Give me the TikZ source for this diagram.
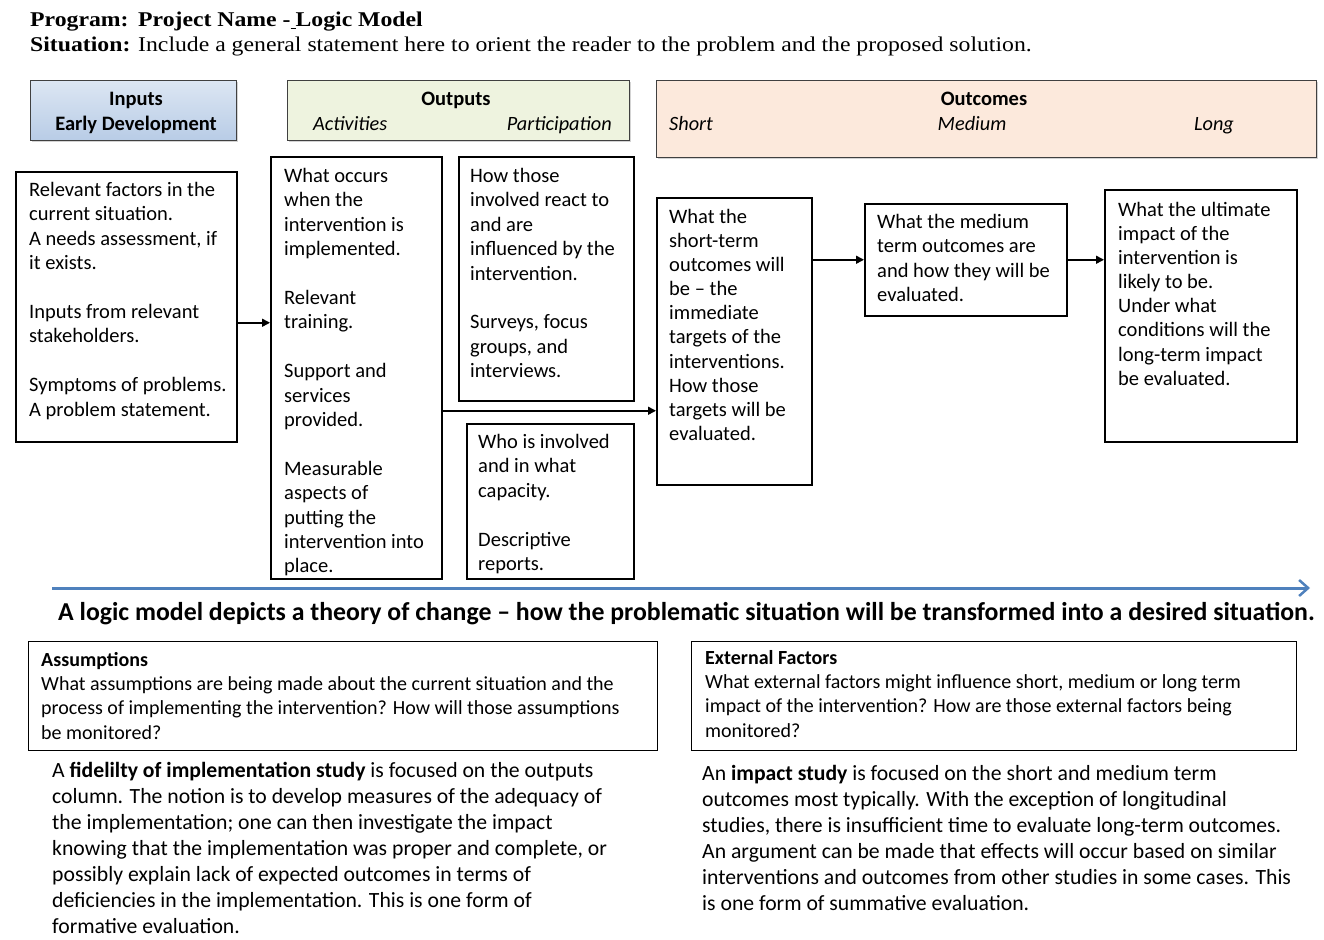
\documentclass[tikz,border=0pt]{standalone}
\usepackage{fontspec}
\setmainfont{Carlito}
\newfontfamily\titlefont[FakeStretch=1.13]{Liberation Serif}
\usetikzlibrary{arrows.meta,shadows}
\definecolor{intop}{HTML}{DCE6F3}
\definecolor{inbot}{HTML}{B8CCE6}
\definecolor{outfill}{HTML}{EEF3DF}
\definecolor{ocfill}{HTML}{FCE9DC}
\definecolor{flowblue}{HTML}{4F81BD}
\begin{document}
\begin{tikzpicture}[x=1pt,y=-1pt,
  box/.style={draw=black, line width=1.5pt, inner sep=0pt, anchor=north west},
  headbox/.style={draw=black!75, line width=1.3pt, inner sep=0pt, anchor=north west,
    drop shadow={shadow xshift=1.5pt, shadow yshift=-1.5pt, opacity=0.35}},
  txt/.style={anchor=north west, inner sep=0pt, align=left, font=\fontsize{20.5}{24.4}\selectfont},
  head/.style={anchor=base, inner sep=0pt, font=\fontsize{20.5}{24}\selectfont\bfseries},
  sub/.style={anchor=base, inner sep=0pt, font=\fontsize{20.3}{24}\selectfont\itshape},
  note/.style={anchor=north west, inner sep=0pt, align=left, font=\fontsize{20}{24.3}\selectfont},
  para/.style={anchor=north west, inner sep=0pt, align=left, font=\fontsize{21.7}{26}\selectfont},
  title/.style={anchor=base west, inner sep=0pt, font=\titlefont\fontsize{21}{24}\selectfont},
  titleb/.style={anchor=base west, inner sep=0pt, font=\titlefont\fontsize{21}{24}\selectfont\bfseries},
  arr/.style={line width=1.5pt, -{Triangle[length=8pt,width=8pt]}}
]
\useasboundingbox (0,0) rectangle (1324,939);

% title lines
\node[titleb] (prog) at (30,27) {Program:};
\node[titleb] (pname) at (138,27) {Project Name -\underline{\hspace{5pt}}Logic Model};
\node[titleb] (sit) at (30,52) {Situation:};
\node[title] (sittext) at (138,52) {Include a general statement here to orient the reader to the problem and the proposed solution.};

% column headers
\node[headbox, top color=intop, bottom color=inbot, minimum width=206pt, minimum height=60pt] (hin) at (30,80) {};
\node[head] (hin1) at (136,106) {Inputs};
\node[head] (hin2) at (136,130) {Early Development};

\node[headbox, fill=outfill, minimum width=342pt, minimum height=60pt] (hout) at (287,80) {};
\node[head] (hout1) at (456,106) {Outputs};
\node[sub, anchor=base west] (hact) at (313,130) {Activities};
\node[sub, anchor=base east] (hpart) at (612,130) {Participation};

\node[headbox, fill=ocfill, minimum width=660pt, minimum height=77pt] (hoc) at (656,80) {};
\node[head] (hoc1) at (984,106) {Outcomes};
\node[sub, anchor=base west] (hshort) at (669,130) {Short};
\node[sub] (hmed) at (972,130) {Medium};
\node[sub] (hlong) at (1214,130) {Long};

% content boxes
\node[box, minimum width=221pt, minimum height=270pt] (inp) at (15,171) {};
\node[txt] (inptxt) at (29,182) {Relevant factors in the\\current situation.\\A needs assessment, if\\it exists.\\[24.4pt]Inputs from relevant\\stakeholders.\\[24.4pt]Symptoms of problems.\\A problem statement.};

\node[box, minimum width=171pt, minimum height=422pt] (act) at (270,156) {};
\node[txt] (acttxt) at (284,168) {What occurs\\when the\\intervention is\\implemented.\\[24.4pt]Relevant\\training.\\[24.4pt]Support and\\services\\provided.\\[24.4pt]Measurable\\aspects of\\putting the\\intervention into\\place.};

\node[box, minimum width=175pt, minimum height=244pt] (partA) at (458,156) {};
\node[txt] (partAtxt) at (470,168) {How those\\involved react to\\and are\\influenced by the\\intervention.\\[24.4pt]Surveys, focus\\groups, and\\interviews.};

\node[box, minimum width=167pt, minimum height=155pt] (partB) at (466,423) {};
\node[txt] (partBtxt) at (478,434) {Who is involved\\and in what\\capacity.\\[24.4pt]Descriptive\\reports.};

\node[box, minimum width=155pt, minimum height=287pt] (short) at (656,197) {};
\node[txt, font=\fontsize{20.5}{24.1}\selectfont] (shorttxt) at (669,209) {What the\\short-term\\outcomes will\\be -- the\\immediate\\targets of the\\interventions.\\How those\\targets will be\\evaluated.};

\node[box, minimum width=202pt, minimum height=112pt] (med) at (864,203) {};
\node[txt] (medtxt) at (877,214) {What the medium\\term outcomes are\\and how they will be\\evaluated.};

\node[box, minimum width=192pt, minimum height=252pt] (long) at (1104,189) {};
\node[txt, font=\fontsize{20.5}{24.1}\selectfont] (longtxt) at (1118,202) {What the ultimate\\impact of the\\intervention is\\likely to be.\\Under what\\conditions will the\\long-term impact\\be evaluated.};

% flow arrows between the columns
\draw[arr] ([yshift=-16pt]inp.east) -- ([yshift=-16pt]inp.east -| act.west);
\draw[arr] ([yshift=-43pt]act.east) -- ([yshift=-43pt]act.east -| short.west);
\draw[arr] (short.east |- med.west) -- (med.west);
\draw[arr] (med.east) -- (med.east -| long.west);

% theory-of-change arrow and statement
\coordinate (tocL) at (52,588);
\coordinate (tocR) at (1310,588);
\draw[flowblue, line width=3pt, -{Straight Barb[length=9pt,width=16pt,line width=2.5pt]}] (tocL) -- (tocR);
\node[anchor=base west, inner sep=0pt, font=\fontsize{25.8}{30}\selectfont\bfseries] (toc) at (58,620) {A logic model depicts a theory of change -- how the problematic situation will be transformed into a desired situation.};

% assumptions and external factors
\node[box, line width=1.3pt, minimum width=629pt, minimum height=109pt] (assum) at (28,641) {};
\node[note] (assumtxt) at (41,652) {\textbf{Assumptions}\\What assumptions are being made about the current situation and the\\process of implementing the intervention? How will those assumptions\\be monitored?};

\node[box, line width=1.3pt, minimum width=605pt, minimum height=109pt] (ext) at (691,641) {};
\node[note] (exttxt) at (705,650) {\textbf{External Factors}\\What external factors might influence short, medium or long term\\impact of the intervention? How are those external factors being\\monitored?};

% study notes
\node[para] (fid) at (52,762) {A \textbf{fidelilty of implementation study} is focused on the outputs\\column. The notion is to develop measures of the adequacy of\\the implementation; one can then investigate the impact\\knowing that the implementation was proper and complete, or\\possibly explain lack of expected outcomes in terms of\\deficiencies in the implementation. This is one form of\\formative evaluation.};

\node[para] (imp) at (702,765) {An \textbf{impact study} is focused on the short and medium term\\outcomes most typically. With the exception of longitudinal\\studies, there is insufficient time to evaluate long-term outcomes.\\An argument can be made that effects will occur based on similar\\interventions and outcomes from other studies in some cases. This\\is one form of summative evaluation.};
\end{tikzpicture}
\end{document}
